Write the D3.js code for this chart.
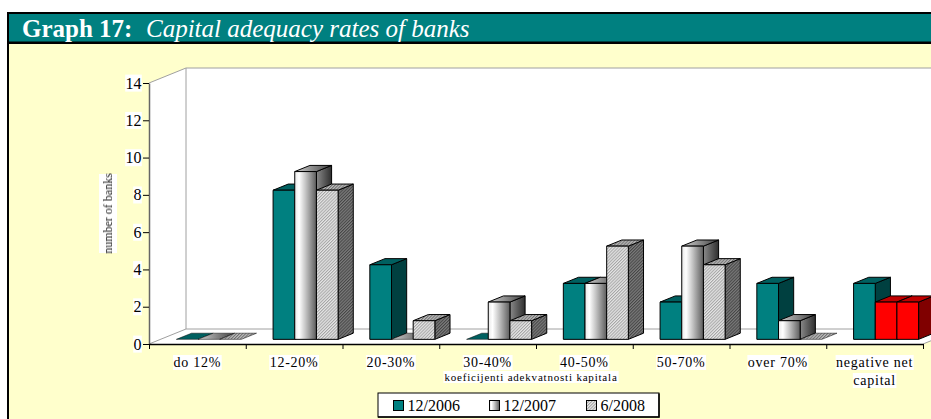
<!DOCTYPE html>
<html>
<head>
<meta charset="utf-8">
<script src="https://cdn.jsdelivr.net/npm/d3@7/dist/d3.min.js"></script>
<style>
  html, body { margin: 0; padding: 0; background: #fff; overflow: hidden; }
  svg { display: block; font-family: "Liberation Serif", serif; }
</style>
</head>
<body>
<script>
// Bank counts by capital adequacy bracket
const categories = ["do 12%", "12-20%", "20-30%", "30-40%", "40-50%", "50-70%", "over 70%", "negative net capital"];
const seriesNames = ["12/2006", "12/2007", "6/2008"];
const values2006 = [0, 8, 4, 0, 3, 2, 3, 3];
const values2007 = [0, 9, 0, 2, 3, 5, 1, 2];
const values2008 = [0, 8, 1, 1, 5, 4, 0, 2];
const yTicks = [0, 2, 4, 6, 8, 10, 12, 14];
const highlightedCategory = "negative net capital";

const W = 931, H = 419;
const svg = d3.select("body").append("svg").attr("width", W).attr("height", H);
const defs = svg.append("defs");

function gradient(id, stops) {
  const g = defs.append("linearGradient").attr("id", id).attr("x1", 0).attr("x2", 1).attr("y1", 0).attr("y2", 0);
  stops.forEach(([o, c]) => g.append("stop").attr("offset", o).attr("stop-color", c));
}
gradient("silverFront", [[0, "#e8e8e8"], [0.2, "#ffffff"], [0.5, "#c4c4c4"], [1, "#5c5c5c"]]);
gradient("silverSide", [[0, "#8a8a8a"], [1, "#2e2e2e"]]);
gradient("silverTop", [[0, "#d0d0d0"], [1, "#404040"]]);

function hatch(id, bg, fg) {
  const p = defs.append("pattern").attr("id", id).attr("width", 2.2).attr("height", 2.2)
    .attr("patternUnits", "userSpaceOnUse").attr("patternTransform", "rotate(-45)");
  p.append("rect").attr("width", 2.2).attr("height", 2.2).attr("fill", bg);
  p.append("rect").attr("width", 2.2).attr("height", 1).attr("fill", fg);
}
hatch("hatchFront", "#e6e6e6", "#a4a4a4");
hatch("hatchSide", "#7c7c7c", "#454545");
hatch("hatchTop", "#bcbcbc", "#707070");

defs.append("filter").attr("id", "soft").append("feGaussianBlur").attr("stdDeviation", 0.3);

// Panel: black frame, teal banner, pale yellow body
svg.append("rect").attr("x", 7).attr("y", 12).attr("width", W).attr("height", H - 12).attr("fill", "#000");
svg.append("rect").attr("x", 9).attr("y", 14).attr("width", W).attr("height", 27.5).attr("fill", "#008080");
svg.append("rect").attr("x", 9).attr("y", 44).attr("width", W).attr("height", H - 44).attr("fill", "#ffffcc");

const title = svg.append("text").attr("y", 37).attr("fill", "#fff").attr("font-size", 25);
title.append("tspan").attr("x", 22).attr("font-weight", "bold").text("Graph 17:");
title.append("tspan").attr("x", 146).attr("font-style", "italic").text("Capital adequacy rates of banks");

// Scales and the oblique projection for the depth axis
const x = d3.scaleBand().domain(categories).range([149, 923]).paddingInner(0.328).paddingOuter(0.164);
const y = d3.scaleLinear().domain([0, 14]).range([344, 83]);
const series = d3.scaleBand().domain(seriesNames).range([0, x.bandwidth()]);
const depthX = 37, depthY = 15;
const barNear = 0.31, barFar = 0.72;
const px = (sx, d) => sx + d * depthX;
const py = (sy, d) => sy - d * depthY;
const poly = pts => pts.map(p => p.join(",")).join(" ");

// Walls and floor
const x0 = x.range()[0], x1 = x.range()[1], y0 = y(0), yTop = y(14);
svg.append("polygon").attr("fill", "#fff")
  .attr("points", poly([[x0, y0], [x0, yTop], [px(x0, 1), py(yTop, 1)], [W + 40, py(yTop, 1)], [W + 40, py(y0, 1)], [px(x1, 1), py(y0, 1)], [x1, y0]]));
const wall = svg.append("g").attr("stroke", "#a0a0a0").attr("stroke-width", 1).attr("fill", "none");
wall.append("polyline").attr("points", poly([[x0, yTop], [px(x0, 1), py(yTop, 1)], [W + 40, py(yTop, 1)]]));
wall.append("polyline").attr("points", poly([[x0, y0], [px(x0, 1), py(y0, 1)], [W + 40, py(y0, 1)]]));
wall.append("line").attr("x1", px(x0, 1)).attr("x2", px(x0, 1)).attr("y1", py(yTop, 1)).attr("y2", py(y0, 1));
wall.append("line").attr("x1", x1).attr("y1", y0).attr("x2", px(x1, 1)).attr("y2", py(y0, 1));

// Colour sets per series
const faces = {
  "12/2006": { front: "#008080", side: "#004040", top: "#006060" },
  "12/2007": { front: "url(#silverFront)", side: "url(#silverSide)", top: "url(#silverTop)" },
  "6/2008": { front: "url(#hatchFront)", side: "url(#hatchSide)", top: "url(#hatchTop)" }
};
const redFaces = { front: "#ff0000", side: "#800000", top: "#c00000" };

const rows = [];
categories.forEach((c, i) => {
  [values2006, values2007, values2008].forEach((vals, s) => {
    rows.push({ category: c, name: seriesNames[s], value: vals[i] });
  });
});

// Boxes are painted left to right so nearer faces cover the sides behind them
const bars = svg.append("g").selectAll("g").data(rows).join("g")
  .attr("stroke", "#000").attr("stroke-width", 1).attr("stroke-linejoin", "round");
bars.each(function (d) {
  const g = d3.select(this);
  const l = x(d.category) + series(d.name), r = l + series.bandwidth();
  const f = (d.category === highlightedCategory && d.name !== seriesNames[0]) ? redFaces : faces[d.name];
  const yb = y(0), yt = y(d.value);
  if (d.value > 0) {
    g.append("polygon").attr("fill", f.side).attr("points", poly([
      [px(r, barNear), py(yb, barNear)], [px(r, barFar), py(yb, barFar)],
      [px(r, barFar), py(yt, barFar)], [px(r, barNear), py(yt, barNear)]]));
  }
  g.append("polygon").attr("fill", f.top)
    .attr("stroke-width", d.value > 0 ? 1 : 0.5)
    .attr("points", poly([
      [px(l, barNear), py(yt, barNear)], [px(r, barNear), py(yt, barNear)],
      [px(r, barFar), py(yt, barFar)], [px(l, barFar), py(yt, barFar)]]));
  if (d.value > 0) {
    g.append("rect").attr("fill", f.front)
      .attr("x", px(l, barNear)).attr("width", r - l)
      .attr("y", py(yt, barNear)).attr("height", yb - yt);
  }
});

// Text with a white plate behind it
function plate(sel, pad) {
  sel.each(function () {
    const b = this.getBBox();
    d3.select(this.parentNode).insert("rect", () => this)
      .attr("x", b.x - pad).attr("y", b.y).attr("width", b.width + 2 * pad).attr("height", b.height)
      .attr("fill", "#fff");
  });
}

// Value axis
const yAxis = svg.append("g").attr("transform", `translate(${x0},0)`)
  .call(d3.axisLeft(y).tickValues(yTicks).tickSize(6).tickPadding(1.5).tickSizeOuter(0));
yAxis.select(".domain").attr("stroke", "#666").attr("stroke-width", 1.5);
yAxis.selectAll(".tick line").attr("stroke", "#000");
yAxis.selectAll(".tick text").attr("font-family", "Liberation Serif").attr("font-size", 16).attr("fill", "#000");
yAxis.selectAll(".tick").each(function () { plate(d3.select(this).select("text"), 0.3); });

// Category axis, ticks on the band edges
const edges = d3.scaleLinear().domain([0, categories.length]).range(x.range());
const xAxis = svg.append("g").attr("transform", `translate(0,${y0})`)
  .call(d3.axisBottom(edges).tickValues(d3.range(categories.length + 1)).tickSize(5).tickSizeOuter(0).tickFormat(""));
xAxis.select(".domain").attr("stroke", "#000").attr("stroke-width", 1.5);
xAxis.selectAll(".tick line").attr("stroke", "#000");

const wrapLines = { "negative net capital": ["negative net", "capital"] };
categories.forEach(c => {
  const g = svg.append("g");
  const cx = x(c) + x.bandwidth() / 2;
  (wrapLines[c] || [c]).forEach((line, i) => {
    const t = g.append("text").attr("x", cx).attr("y", 367 + i * 18)
      .attr("text-anchor", "middle").attr("font-size", 14).attr("letter-spacing", 0.75)
      .attr("fill", "#000").text(line);
    plate(t, 0.5);
  });
});

// Axis titles
const xTitle = svg.append("g").append("text").attr("x", 531).attr("y", 381).attr("text-anchor", "middle")
  .attr("font-size", 11).attr("letter-spacing", 0.8).attr("fill", "#000").text("koeficijenti adekvatnosti kapitala");
plate(xTitle, 1);

const yTitleG = svg.append("g").attr("transform", "translate(112,213.5) rotate(-90)");
yTitleG.append("rect").attr("x", -39.5).attr("y", -13).attr("width", 79).attr("height", 18).attr("fill", "#fff");
yTitleG.append("text").attr("text-anchor", "middle").attr("font-size", 12)
  .attr("fill", "#222").attr("filter", "url(#soft)").text("number of banks");

// Legend
const legend = svg.append("g");
legend.append("rect").attr("x", 378).attr("y", 393).attr("width", 281).attr("height", 24)
  .attr("fill", "#fff").attr("stroke", "#000").attr("stroke-width", 1);
legend.append("path").attr("d", "M659,393.5V417H378").attr("fill", "none").attr("stroke", "#000").attr("stroke-width", 1.5);
const legendX = d3.scaleOrdinal().domain(seriesNames).range([393.5, 489.5, 586.5]);
seriesNames.forEach(n => {
  legend.append("rect").attr("x", legendX(n)).attr("y", 400.5).attr("width", 10).attr("height", 10)
    .attr("fill", faces[n].front).attr("stroke", "#000");
  legend.append("text").attr("x", legendX(n) + 14).attr("y", 410.5).attr("font-size", 16)
    .attr("fill", "#000").text(n);
});
</script>
</body>
</html>
